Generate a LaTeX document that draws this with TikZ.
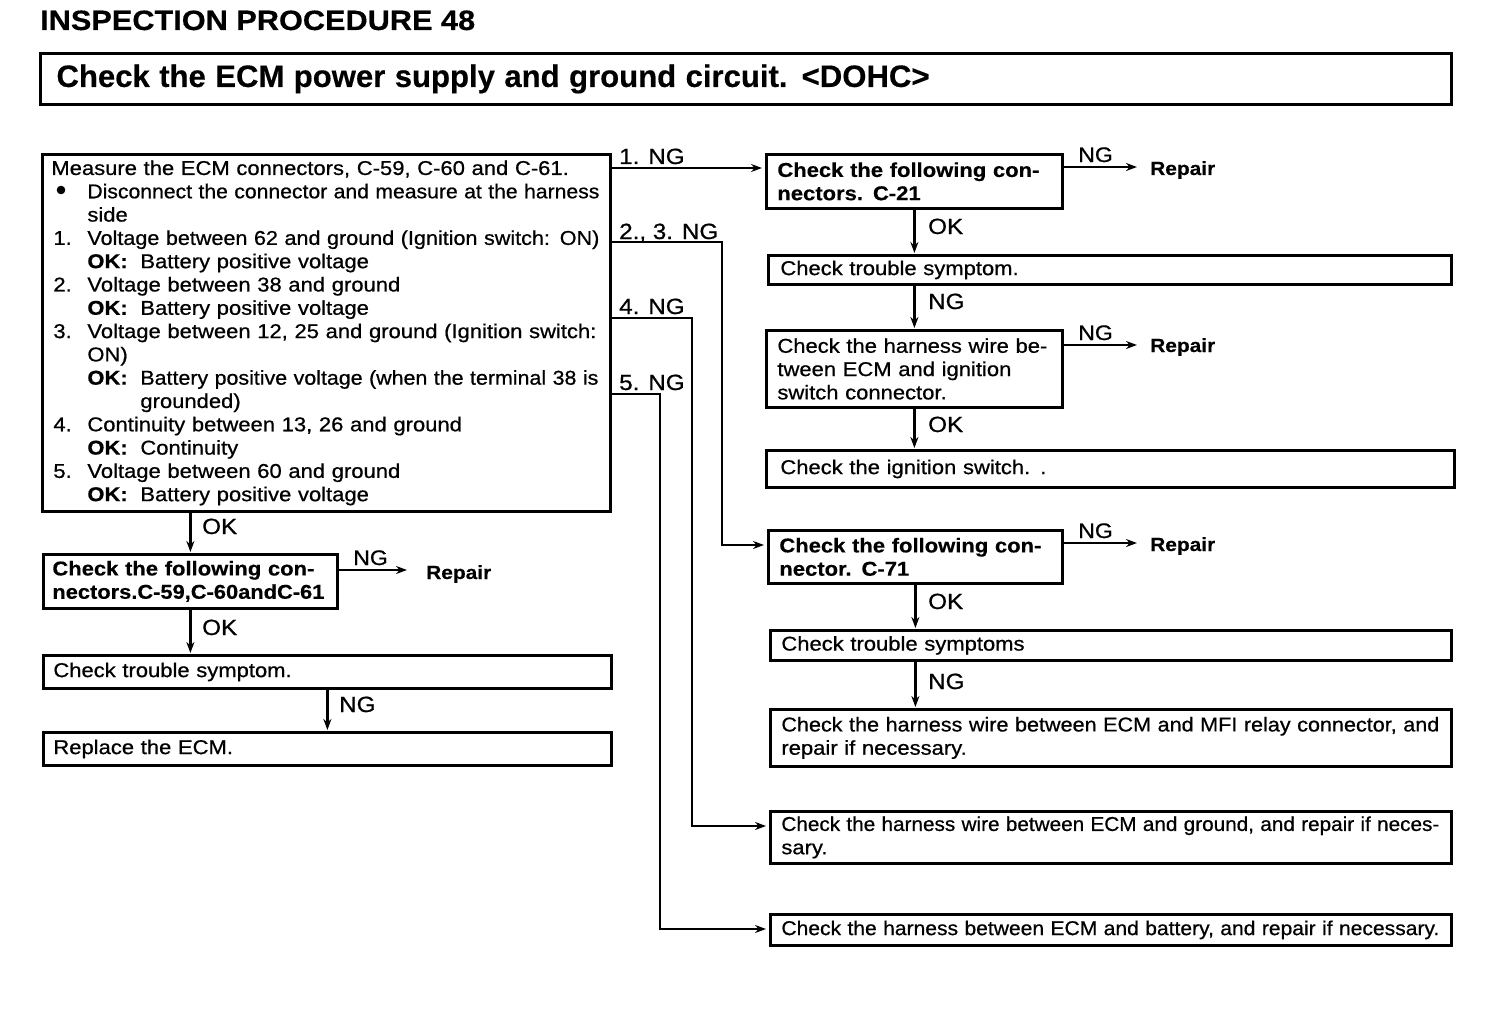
\documentclass[tikz,border=0pt]{standalone}
\usepackage{fontspec}
\setmainfont[FakeStretch=1.1, UprightFeatures={FakeBold=0.7}, BoldFeatures={FakeBold=0.4}]{Liberation Sans}
\usetikzlibrary{arrows.meta}
\newsavebox\fitbox
\newcommand\fit[2]{\sbox\fitbox{#2}\ifdim\wd\fitbox>#1\relax\resizebox{#1}{\height}{\usebox\fitbox}\else\makebox[#1][s]{#2}\fi}
\newcommand\bsz{\fontsize{20}{23.3}\selectfont}
\newcommand\ind{\hspace*{36pt}}
\newcommand\num[1]{\makebox[36pt][l]{\hspace{2pt}#1}}
\newcommand\okl{\ind\makebox[53pt][l]{\bfseries OK:}}
\begin{document}
\begin{tikzpicture}[x=1pt,y=-1pt,
  box/.style={draw, line width=2.8pt, anchor=north west, inner ysep=0pt, align=left, font=\bsz},
  conn/.style={line width=2.4pt},
  arr/.style={conn, -{Stealth[length=11pt,width=8pt]}, shorten >=1pt},
  lbl/.style={anchor=base west, inner sep=0pt, font=\fontsize{22}{22}\selectfont},
  nglbl/.style={anchor=base west, inner sep=0pt, font=\fontsize{21}{21}\selectfont},
  repl/.style={anchor=base west, inner sep=0pt, font=\bfseries\fontsize{19}{19}\selectfont}]
\fill[white] (0,0) rectangle (1504,1014);
\useasboundingbox (0,0) rectangle (1504,1014);

% title and header
\node[anchor=base west, inner sep=0pt, font=\bfseries\fontsize{28}{28}\selectfont] (title) at (40,30) {\fit{435pt}{INSPECTION PROCEDURE 48}};
\node[box, line width=3pt, font=\bfseries\fontsize{31}{31}\selectfont, minimum width=1411pt, minimum height=51pt, text width=1379pt, inner xsep=16pt] (hdr) at (39,52) {\fit{873pt}{Check the ECM power supply and ground circuit. <DOHC>}};

% main measurement box
\node[box, minimum width=568pt, minimum height=357pt, text width=550pt, inner xsep=9pt] (main) at (41,153) {%
\fit{520pt}{Measure the ECM connectors, C-59, C-60 and C-61.}\\
\ind\fit{512pt}{Disconnect the connector and measure at the harness}\\
\ind side\\
\num{1.}\fit{512pt}{Voltage between 62 and ground (Ignition switch: ON)}\\
\okl Battery positive voltage\\
\num{2.}Voltage between 38 and ground\\
\okl Battery positive voltage\\
\num{3.}\fit{513pt}{Voltage between 12, 25 and ground (Ignition switch:}\\
\ind ON)\\
\okl\fit{458pt}{Battery positive voltage (when the terminal 38 is}\\
\ind\hspace*{53pt}grounded)\\
\num{4.}Continuity between 13, 26 and ground\\
\okl Continuity\\
\num{5.}Voltage between 60 and ground\\
\okl Battery positive voltage};
% bullet mark of the first instruction
\fill ([xshift=20pt,yshift=-37pt]main.north west) circle (4.3pt);

% right column
\node[box, font=\bsz\bfseries, minimum width=296pt, minimum height=54pt, text width=274pt, inner xsep=11pt] (c21) at (765,153) {\fit{272pt}{Check the following con-}\\nectors. C-21};
\node[box, minimum width=683pt, minimum height=29pt, text width=659pt, inner xsep=12pt] (ts1) at (767,254) {Check trouble symptom.};
\node[box, minimum width=296pt, minimum height=77pt, text width=274pt, inner xsep=11pt] (hw) at (765,329) {\fit{274pt}{Check the harness wire be-}\\\fit{274pt}{tween ECM and ignition}\\switch connector.};
\node[box, minimum width=688pt, minimum height=37pt, text width=660pt, inner xsep=14pt] (ign) at (765,449) {Check the ignition switch. .};
\node[box, font=\bsz\bfseries, minimum width=294pt, minimum height=53pt, text width=272pt, inner xsep=11pt] (c71) at (767,529) {\fit{270pt}{Check the following con-}\\nector. C-71};
\node[box, minimum width=681pt, minimum height=30pt, text width=659pt, inner xsep=11pt] (ts2) at (769,629) {Check trouble symptoms};
\node[box, minimum width=681pt, minimum height=57pt, text width=659pt, inner xsep=11pt] (mfi) at (769,708) {\fit{658pt}{Check the harness wire between ECM and MFI relay connector, and}\\repair if necessary.};
\node[box, minimum width=681pt, minimum height=52pt, text width=659pt, inner xsep=11pt] (gnd) at (769,810) {\fit{658pt}{Check the harness wire between ECM and ground, and repair if neces-}\\sary.};
\node[box, minimum width=681pt, minimum height=31pt, text width=659pt, inner xsep=11pt] (bat) at (769,913) {\fit{658pt}{Check the harness between ECM and battery, and repair if necessary.}};

% left column
\node[box, font=\bsz\bfseries, minimum width=294pt, minimum height=54pt, text width=276pt, inner xsep=9pt] (cL) at (42,553) {\fit{272pt}{Check the following con-}\\\fit{272pt}{nectors.C-59,C-60andC-61}};
\node[box, minimum width=568pt, minimum height=33pt, text width=548pt, inner xsep=10pt] (tsL) at (42,654) {Check trouble symptom.};
\node[box, minimum width=568pt, minimum height=33pt, text width=548pt, inner xsep=10pt] (rpl) at (42,731) {Replace the ECM.};

% NG branches from the main box
\coordinate (k23) at (722,545);
\coordinate (k4) at (692,826);
\coordinate (k5) at (660,929);
\draw[arr, shorten >=3pt] ([yshift=-15pt]main.north east) -- ([yshift=-15pt]c21.north west);
\draw[arr, shorten >=3pt] ([yshift=-89pt]main.north east) -| (k23) -- ([yshift=-16pt]c71.north west);
\draw[arr, shorten >=3pt] ([yshift=-165pt]main.north east) -| (k4) -- ([yshift=-16pt]gnd.north west);
\draw[arr, shorten >=3pt] ([yshift=-241pt]main.north east) -| (k5) -- ([yshift=-16pt]bat.north west);
\node[lbl] (n1) at (619,164) {1. NG};
\node[lbl] (n23) at (619,239) {2., 3. NG};
\node[lbl] (n4) at (619,314) {4. NG};
\node[lbl] (n5) at (619,390) {5. NG};

% right column flow
\draw[arr] (c21.south) -- (c21.south |- ts1.north);
\node[lbl] (ok1) at (928,234) {OK};
\draw[arr] (c21.south |- ts1.south) -- (c21.south |- hw.north);
\node[lbl] (ng1) at (928,309) {NG};
\draw[arr] (hw.south) -- (hw.south |- ign.north);
\node[lbl] (ok2) at (928,432) {OK};
\draw[arr] (c71.south) -- (c71.south |- ts2.north);
\node[lbl] (ok3) at (928,609) {OK};
\draw[arr] (c71.south |- ts2.south) -- (c71.south |- mfi.north);
\node[lbl] (ng2) at (928,689) {NG};

% repair branches
\coordinate (e1) at (1138,167);
\coordinate (e2) at (1138,345);
\coordinate (e3) at (1138,543);
\coordinate (e4) at (408,570);
\draw[arr] (c21.east |- e1) -- (e1);
\draw[arr] (hw.east |- e2) -- (e2);
\draw[arr] (c71.east |- e3) -- (e3);
\draw[arr] (cL.east |- e4) -- (e4);
\node[nglbl] (g1) at (1078,162) {NG};
\node[nglbl] (g2) at (1078,340) {NG};
\node[nglbl] (g3) at (1078,538) {NG};
\node[nglbl] (g4) at (353,565) {NG};
\node[repl] (r1) at (1150,175) {Repair};
\node[repl] (r2) at (1150,352) {Repair};
\node[repl] (r3) at (1150,551) {Repair};
\node[repl] (r4) at (426,579) {Repair};

% left column flow
\draw[arr] (main.south -| cL.north) -- (cL.north);
\node[lbl] (ok4) at (202,534) {OK};
\draw[arr] (cL.south) -- (cL.south |- tsL.north);
\node[lbl] (ok5) at (202,635) {OK};
\draw[arr] (tsL.south) -- (rpl.north);
\node[lbl] (ng5) at (339,712) {NG};
\end{tikzpicture}
\end{document}
